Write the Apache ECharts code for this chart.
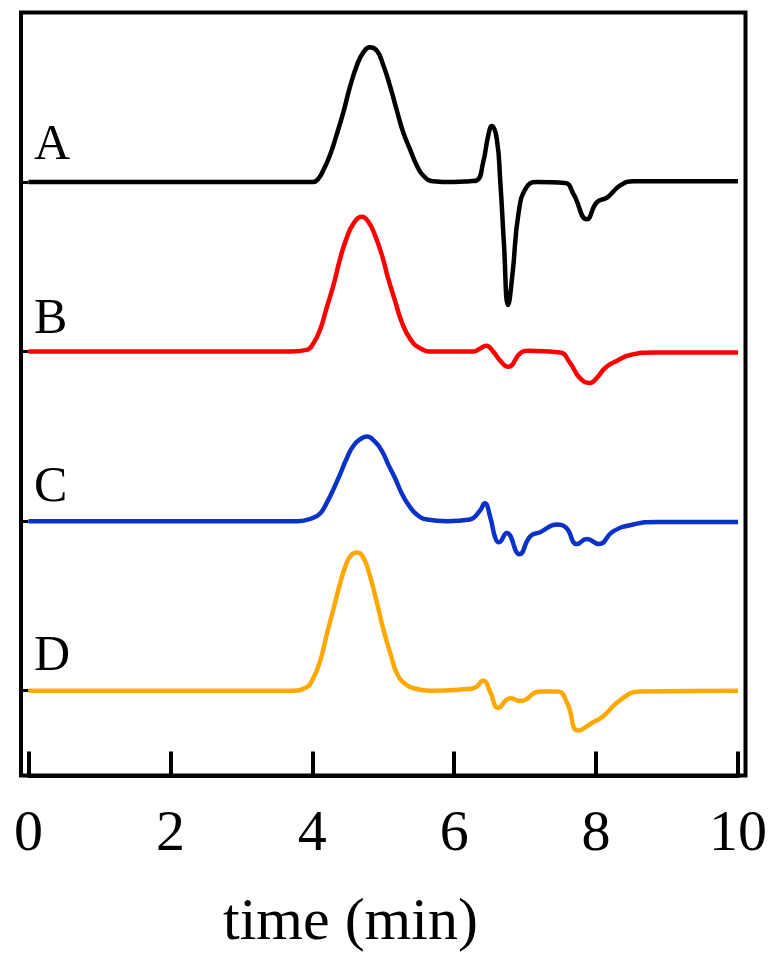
<!DOCTYPE html>
<html>
<head>
<meta charset="utf-8">
<script src="https://cdn.jsdelivr.net/npm/echarts@6/dist/echarts.min.js"></script>
<style>
  html, body { margin: 0; padding: 0; background: #fff; }
  #chart { width: 773px; height: 956px; }
</style>
</head>
<body>
<div id="chart"></div>
<script>
// x ticks (min)
const xTicks = [0, 2, 4, 6, 8, 10]
// vertical offset of each trace (stacked chromatograms)
const offsets = { A: 700, B: 500, C: 300, D: 100 }

// trace A (black)
const timeA = [0, 3.54, 4.01, 4.085, 4.155, 4.25, 4.34, 4.44, 4.53, 4.63, 4.72, 4.81, 4.91, 5.0, 5.10, 5.19, 5.28, 5.38, 5.47, 5.56, 5.70, 5.99, 6.22, 6.32, 6.41, 6.48, 6.53, 6.60, 6.65, 6.70, 6.76, 6.82, 6.91, 7.02, 7.16, 7.56, 7.68, 7.87, 8.01, 8.16, 8.34, 8.53, 10]
const sigA = [0, 0, 0, 4, 14, 32, 55, 83, 112, 138, 153, 159, 155, 138, 112, 85, 59, 38, 20, 8, 1, 0, 1, 2, 24, 55, 66, 51, 0, -71, -145, -110, -35, -6, 0, -1, -14, -44, -24, -18, -4, 1, 1]

// trace B (red)
const timeB = [0, 3.7, 3.92, 4.01, 4.11, 4.20, 4.30, 4.39, 4.48, 4.58, 4.70, 4.79, 4.88, 4.98, 5.07, 5.17, 5.26, 5.38, 5.52, 5.70, 6.27, 6.37, 6.45, 6.55, 6.65, 6.76, 6.93, 7.04, 7.49, 7.63, 7.77, 7.91, 8.01, 8.13, 8.29, 8.48, 8.81, 10]
const sigB = [0, 0, 2, 9, 26, 51, 79, 109, 133, 151, 159, 153, 138, 114, 86, 59, 35, 15, 4, 0, 0, 4, 7, 0, -11, -18, -2, 1, -1, -13, -31, -37, -31, -19, -11, -4, -1, -1]

// trace C (blue)
const timeC = [0, 3.8, 4.01, 4.11, 4.20, 4.30, 4.39, 4.48, 4.58, 4.70, 4.77, 4.88, 4.98, 5.07, 5.17, 5.26, 5.35, 5.47, 5.62, 5.90, 6.22, 6.36, 6.43, 6.51, 6.58, 6.63, 6.74, 6.92, 7.07, 7.21, 7.45, 7.58, 7.73, 7.87, 8.04, 8.24, 8.52, 8.86, 10]
const sigC = [0, 0, 4, 9, 21, 38, 55, 73, 89, 98, 100, 94, 83, 67, 50, 33, 20, 8, 2, 0, 2, 12, 21, 4, -20, -25, -14, -39, -18, -13, -4, -8, -27, -21, -27, -12, -4, -1, -1]

// trace D (orange)
const timeD = [0, 3.7, 3.92, 4.01, 4.11, 4.20, 4.30, 4.39, 4.48, 4.55, 4.63, 4.72, 4.81, 4.91, 5.0, 5.10, 5.19, 5.31, 5.47, 5.66, 6.18, 6.30, 6.41, 6.51, 6.62, 6.79, 6.93, 7.21, 7.46, 7.59, 7.75, 7.94, 8.10, 8.34, 8.62, 10]
const sigD = [0, 0, 4, 14, 35, 65, 97, 126, 150, 160, 163, 157, 136, 104, 73, 44, 21, 8, 2, 0, 2, 4, 12, -2, -20, -9, -12, -1, -1, -14, -47, -38, -30, -11, -1, 0]

const traces = [
  { name: 'A', time: timeA, sig: sigA, color: '#000000' },
  { name: 'B', time: timeB, sig: sigB, color: '#ff0000' },
  { name: 'C', time: timeC, sig: sigC, color: '#0a32c8' },
  { name: 'D', time: timeD, sig: sigD, color: '#ffa800' }
]

const serif = 'Liberation Serif, Times New Roman, serif'

const chart = echarts.init(document.getElementById('chart'))

const series = traces.map(tr => ({
  name: tr.name,
  type: 'line',
  smooth: 0.5,
  symbol: 'none',
  lineStyle: { color: tr.color, width: 4.5 },
  data: tr.time.map((t, i) => [t, offsets[tr.name] + tr.sig[i]])
}))

// letter labels placed above each trace, near the left
const labelY = { A: 148, B: 322, C: 490, D: 659 }
const letterTexts = traces.map(tr => ({
  type: 'text',
  left: 34,
  top: labelY[tr.name] - 27,
  style: { text: tr.name, font: '50px ' + serif, fill: '#000' }
}))

chart.setOption({
  animation: false,
  backgroundColor: '#fff',
  grid: { left: 28.5, right: 35, top: 12.5, bottom: 180.5 },
  xAxis: {
    type: 'value',
    min: 0,
    max: 10,
    interval: 2,
    axisLine: { show: true, lineStyle: { color: '#000', width: 4 } },
    axisTick: { show: true, inside: true, length: 24, lineStyle: { color: '#000', width: 4 } },
    axisLabel: {
      margin: 30,
      fontFamily: serif,
      fontSize: 58,
      color: '#000',
      formatter: v => (xTicks.includes(v) ? String(v) : '')
    },
    splitLine: { show: false }
  },
  yAxis: {
    type: 'value',
    min: 0,
    max: 900,
    axisLine: { show: false },
    axisTick: {
      show: true,
      inside: false,
      length: 7,
      customValues: [offsets.D, offsets.C, offsets.B, offsets.A],
      lineStyle: { color: '#000', width: 3 }
    },
    axisLabel: { show: false },
    splitLine: { show: false }
  },
  graphic: [
    {
      type: 'rect',
      shape: { x: 21, y: 12.5, width: 724.5, height: 763 },
      style: { fill: 'none', stroke: '#000', lineWidth: 4 },
      z: 10
    },
    {
      type: 'text',
      left: 223,
      top: 893,
      style: { text: 'time (min)', font: '60px ' + serif, fill: '#000' }
    },
    ...letterTexts
  ],
  series
})
</script>
</body>
</html>
